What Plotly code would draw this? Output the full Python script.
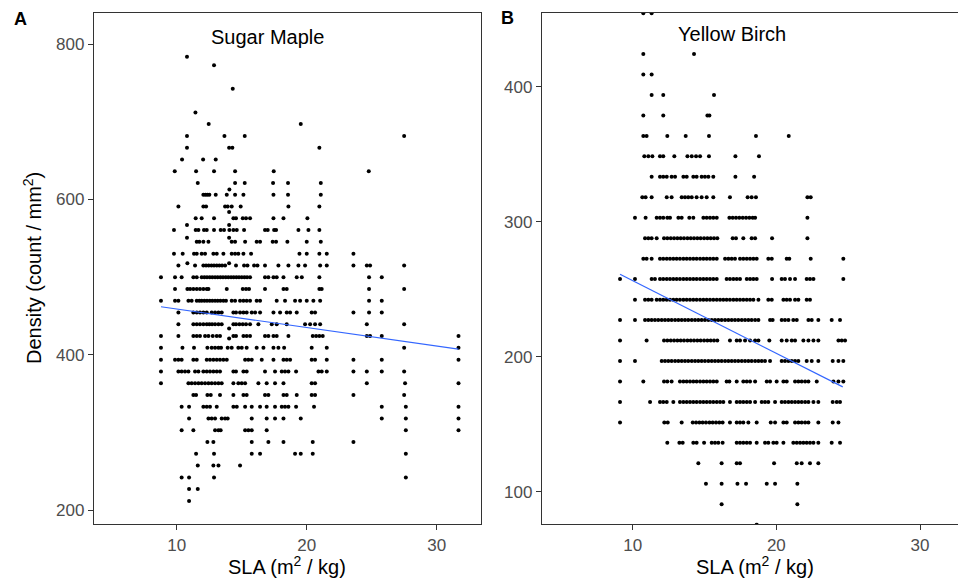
import plotly.graph_objects as go

# ---------------- Panel A: Sugar Maple ----------------
maple_density_levels = [783.7, 772.6, 742.4, 712.1, 697.0, 681.8, 666.7, 651.5, 636.4, 621.2, 613.0, 606.1,
                        590.9, 584.0, 575.8, 567.2, 560.6, 550.9, 545.5, 530.3, 518.0, 515.2, 500.0, 484.8,
                        469.7, 454.5, 439.4, 434.0, 424.2, 421.0, 409.1, 393.9, 378.8, 363.6, 348.5, 333.3,
                        318.2, 303.0, 287.9, 272.7, 257.6, 242.4, 227.3, 212.1]
maple_sla_by_level = [
    [10.79],
    [12.87],
    [14.31],
    [11.44],
    [12.46, 19.54],
    [10.79, 13.67, 15.23, 27.49],
    [10.79, 14.03, 14.28, 20.97],
    [10.41, 12.03, 13.00],
    [9.85, 11.49, 12.87, 14.49, 17.46, 24.77],
    [11.62, 14.49, 15.23, 17.41, 18.56, 21.08],
    [14.05],
    [12.05, 12.21, 12.36, 12.51, 13.00, 13.85, 14.49, 15.13, 17.44, 18.56, 21.08],
    [10.13, 12.05, 12.26, 13.72, 13.92, 14.23, 14.92, 18.59, 20.97],
    [14.03],
    [11.46, 11.92, 12.87, 14.36, 14.56, 15.08, 15.33, 15.64, 17.44, 18.21, 20.05],
    [10.79, 14.03],
    [9.79, 11.46, 11.67, 12.10, 12.31, 12.87, 13.38, 13.64, 14.05, 14.36, 14.62, 15.18, 16.79, 17.00,
     17.49, 17.64, 19.36, 20.13, 20.97],
    [10.79, 14.03],
    [11.54, 11.74, 12.05, 12.44, 14.23, 14.49, 15.26, 16.15, 16.41, 17.38, 17.64, 18.51, 20.00, 21.08],
    [9.79, 10.46, 11.33, 11.54, 11.92, 12.18, 12.82, 13.08, 13.59, 14.23, 14.49, 14.74, 15.13, 15.72,
     19.44, 20.00, 20.97, 21.54, 23.59],
    [10.82, 14.03],
    [10.13, 11.41, 12.05, 12.26, 12.46, 12.67, 12.87, 13.08, 13.28, 13.49, 13.72, 14.56, 15.18, 15.44,
     15.95, 16.21, 16.79, 17.82, 18.59, 19.36, 19.87, 21.03, 21.54, 23.59, 24.62, 24.87, 27.49],
    [8.79, 9.87, 10.38, 11.28, 11.54, 11.92, 12.13, 12.33, 12.54, 12.74, 12.95, 13.15, 13.36, 13.56,
     13.77, 13.97, 14.18, 14.38, 14.59, 14.79, 15.00, 15.21, 15.41, 15.64, 16.79, 17.05, 17.44, 17.69,
     18.21, 19.23, 19.62, 20.97, 24.79, 25.77],
    [9.87, 10.82, 11.03, 11.28, 11.54, 11.79, 12.05, 12.31, 12.44, 13.85, 15.08, 15.33, 15.56, 16.79,
     18.21, 18.46, 20.97, 21.15, 24.79, 27.49],
    [8.79, 9.87, 10.13, 10.90, 11.15, 11.54, 11.74, 11.92, 12.13, 12.33, 12.54, 12.74, 12.95, 13.15,
     13.36, 13.59, 13.79, 14.23, 14.49, 14.87, 15.13, 15.38, 15.64, 16.15, 16.41, 17.69, 18.33, 19.10,
     19.49, 20.00, 20.51, 21.03, 24.79, 25.77],
    [10.13, 11.28, 11.54, 11.79, 12.05, 12.31, 12.69, 12.95, 13.21, 13.46, 14.36, 14.56, 14.87, 15.13,
     15.38, 15.77, 16.03, 16.41, 17.44, 17.95, 18.46, 18.72, 19.23, 20.38, 20.64, 23.59, 24.79, 25.77],
    [10.13, 11.28, 11.54, 11.79, 12.05, 12.31, 12.51, 12.72, 12.95, 13.21, 13.46, 14.36, 14.56, 14.82,
     15.08, 15.33, 15.64, 16.28, 17.31, 17.69, 18.46, 19.87, 20.26, 20.64, 21.03, 24.62, 27.49],
    [14.03],
    [8.79, 10.13, 11.28, 11.54, 11.79, 12.18, 12.44, 12.77, 13.08, 13.33, 14.36, 14.56, 15.13, 15.38,
     15.64, 16.79, 17.05, 17.44, 17.69, 18.59, 20.46, 20.72, 20.97, 21.23, 24.62, 24.87, 25.77, 31.67],
    [14.03],
    [8.79, 10.44, 11.33, 12.36, 12.69, 12.95, 13.21, 13.41, 13.92, 14.23, 14.74, 15.00, 15.38, 16.15,
     16.67, 17.44, 17.82, 18.26, 20.38, 21.54, 27.49, 31.67],
    [8.79, 9.87, 10.13, 10.38, 11.28, 11.54, 12.31, 12.56, 12.82, 13.08, 13.33, 13.59, 13.85, 15.26,
     15.51, 15.77, 16.54, 17.44, 18.21, 18.46, 18.72, 20.38, 20.64, 21.54, 23.59, 25.77, 31.67],
    [8.79, 10.13, 10.38, 10.64, 10.90, 11.41, 11.67, 12.05, 12.31, 12.56, 12.82, 13.08, 13.33, 14.36,
     14.56, 15.13, 15.38, 16.79, 17.56, 18.08, 18.33, 18.59, 19.18, 20.90, 21.15, 21.54, 23.59, 24.62,
     25.77, 27.49],
    [8.79, 10.90, 11.15, 11.41, 11.67, 11.92, 12.18, 12.44, 12.69, 12.95, 13.21, 13.46, 14.36, 14.74,
     15.00, 15.26, 16.28, 16.92, 17.56, 18.21, 20.38, 20.64, 24.62, 27.56, 31.67],
    [11.28, 11.49, 12.36, 12.62, 13.33, 14.36, 15.13, 15.38, 16.79, 17.05, 18.21, 18.46, 19.23, 20.38,
     20.64, 23.59, 27.49],
    [10.38, 10.95, 12.05, 12.31, 12.56, 13.08, 14.36, 14.62, 15.26, 15.77, 16.41, 16.92, 17.56, 18.08,
     18.33, 18.59, 19.18, 20.56, 25.77, 27.62, 31.67],
    [10.95, 12.44, 12.69, 12.95, 13.46, 13.72, 13.92, 15.77, 16.92, 17.56, 18.21, 19.54, 25.77, 27.62, 31.67],
    [10.38, 11.28, 12.95, 13.21, 13.38, 15.26, 15.51, 15.77, 16.92, 27.62, 31.67],
    [12.36, 12.82, 15.77, 17.05, 18.21, 20.46, 23.59],
    [11.49, 12.87, 15.77, 16.41, 19.10, 19.54, 20.46, 27.62],
    [11.62, 12.82, 13.21, 14.87],
    [10.38, 10.95, 12.87, 27.62],
    [10.95, 11.62],
    [10.95],
]
maple_fit_sla = [8.79, 31.66]
maple_fit_density = [462.0, 407.4]

# ---------------- Panel B: Yellow Birch ----------------
birch_density_levels = [454.5, 424.2, 409.1, 393.9, 378.8, 363.6, 348.5, 333.3, 318.2, 303.0, 287.9,
                        272.7, 257.6, 242.4, 227.3, 212.1, 197.0, 181.8, 166.7, 151.5, 136.4, 121.2,
                        106.1, 90.9, 75.8]
birch_sla_by_level = [
    [10.74, 11.32],
    [10.74, 14.27],
    [10.74, 11.32],
    [11.32, 12.13, 15.66],
    [10.74, 12.13, 15.20, 15.34],
    [10.74, 10.97, 12.41, 13.69, 15.31, 18.58, 20.86],
    [10.81, 11.09, 11.37, 11.90, 12.13, 12.90, 13.81, 14.11, 14.41, 14.69, 15.31, 17.15, 18.79],
    [11.32, 11.90, 12.13, 12.37, 12.71, 12.95, 13.53, 13.76, 14.22, 14.45, 14.80, 15.03, 15.27, 15.61,
     17.15, 18.45],
    [10.67, 10.90, 11.32, 12.37, 12.71, 13.41, 13.64, 13.87, 14.11, 14.45, 14.80, 15.15, 15.61, 16.77,
     18.00, 18.28, 18.58, 22.16, 22.39],
    [10.16, 10.90, 11.67, 11.90, 12.13, 12.41, 12.60, 13.18, 13.41, 13.94, 14.22, 14.92, 15.15, 15.38,
     15.61, 15.85, 16.73, 16.96, 17.19, 17.42, 17.66, 17.89, 18.12, 18.35, 18.52, 22.16],
    [10.86, 11.09, 11.32, 11.67, 12.18, 12.41, 12.65, 12.88, 13.11, 13.34, 13.57, 13.81, 14.04, 14.27,
     14.50, 14.73, 14.97, 15.20, 15.43, 15.66, 15.89, 16.96, 17.19, 17.70, 18.28, 18.52, 19.70, 22.16],
    [10.74, 10.97, 11.32, 11.90, 12.13, 12.37, 12.60, 12.83, 13.06, 13.29, 13.53, 13.76, 13.99, 14.22,
     14.45, 14.69, 14.92, 15.15, 15.38, 15.61, 15.85, 16.43, 16.66, 16.89, 17.12, 17.47, 17.70, 17.94,
     18.17, 18.40, 18.63, 19.44, 19.68, 20.72, 20.90, 22.39, 24.66],
    [9.12, 10.16, 11.32, 11.55, 11.90, 12.13, 12.37, 12.60, 12.83, 13.06, 13.29, 13.53, 13.76, 13.99,
     14.22, 14.45, 14.69, 14.92, 15.15, 15.38, 15.61, 15.85, 16.54, 16.77, 17.01, 17.24, 17.47, 17.94,
     18.17, 18.40, 18.63, 19.70, 20.37, 20.60, 20.95, 21.30, 22.11, 22.34, 22.58, 24.66],
    [10.16, 10.86, 11.09, 11.32, 11.67, 11.90, 12.13, 12.37, 12.60, 12.83, 13.06, 13.29, 13.53, 13.76,
     13.99, 14.22, 14.45, 14.69, 14.92, 15.15, 15.38, 15.61, 15.85, 16.08, 16.31, 16.54, 16.77, 17.01,
     17.24, 17.47, 17.70, 17.94, 18.17, 18.40, 18.75, 19.44, 19.68, 20.49, 20.72, 20.95, 21.30, 21.53,
     22.11, 22.34],
    [9.12, 10.16, 10.86, 11.09, 11.32, 11.55, 11.78, 12.02, 12.25, 12.48, 12.71, 12.95, 13.18, 13.41,
     13.64, 13.87, 14.11, 14.34, 14.57, 14.80, 15.03, 15.27, 15.50, 15.73, 15.96, 16.19, 16.43, 16.66,
     16.89, 17.12, 17.35, 17.59, 17.82, 18.05, 18.28, 18.52, 18.75, 19.56, 19.74, 20.37, 20.60, 20.84,
     21.18, 21.42, 22.23, 22.46, 22.92, 23.85, 24.43],
    [9.12, 10.97, 12.18, 12.41, 12.65, 12.88, 13.11, 13.34, 13.57, 13.81, 14.04, 14.27, 14.50, 14.73,
     14.97, 15.20, 15.43, 15.66, 15.89, 16.77, 17.24, 17.47, 17.82, 18.17, 18.52, 18.75, 19.51, 20.37,
     20.72, 21.07, 21.30, 21.88, 22.23, 22.58, 22.92, 24.32, 24.55, 24.78],
    [9.12, 10.16, 12.02, 12.25, 12.48, 12.71, 12.95, 13.18, 13.41, 13.64, 13.87, 14.11, 14.34, 14.57,
     14.80, 15.03, 15.27, 15.50, 15.73, 15.96, 16.19, 16.43, 16.66, 16.89, 17.12, 17.35, 17.59, 17.82,
     18.05, 18.28, 18.52, 18.75, 18.98, 19.21, 19.56, 20.37, 20.60, 20.84, 21.07, 21.30, 21.53, 22.11,
     22.46, 22.92, 23.92, 24.32, 24.66],
    [9.12, 10.74, 12.18, 12.41, 12.71, 13.29, 13.53, 13.76, 13.99, 14.22, 14.45, 14.69, 14.92, 15.15,
     15.38, 15.61, 15.85, 16.54, 16.73, 17.24, 17.70, 17.94, 18.17, 18.52, 19.33, 19.56, 20.02, 20.49,
     20.72, 21.30, 21.53, 21.76, 22.00, 22.23, 22.81, 23.97, 24.32, 24.66],
    [9.12, 11.21, 11.90, 12.13, 12.37, 12.83, 13.29, 13.53, 13.76, 13.99, 14.22, 14.45, 14.69, 14.92,
     15.15, 15.38, 15.61, 15.85, 16.08, 16.31, 16.77, 17.24, 17.47, 17.70, 17.94, 18.17, 18.52, 18.98,
     19.21, 19.44, 19.91, 20.37, 20.60, 20.84, 21.07, 21.30, 21.53, 21.76, 22.00, 22.23, 22.58, 22.92,
     23.92, 24.20, 24.43],
    [9.12, 12.20, 12.44, 13.41, 14.18, 14.41, 14.64, 14.87, 15.10, 15.34, 15.57, 15.80, 16.03, 16.26,
     16.77, 17.24, 17.47, 17.70, 18.05, 18.63, 19.61, 19.91, 20.49, 20.72, 21.30, 21.53, 21.76, 22.00,
     22.23, 22.92, 23.92, 24.32],
    [12.41, 13.25, 13.48, 14.22, 14.45, 14.97, 15.50, 15.73, 15.96, 16.26, 17.24, 17.47, 17.70, 17.94,
     18.17, 18.63, 19.21, 19.44, 19.79, 20.02, 20.49, 21.18, 21.42, 21.65, 21.88, 22.11, 22.34, 22.58,
     22.92, 23.85, 24.43],
    [14.57, 16.19, 17.24, 17.47, 19.84, 21.42, 21.76, 22.34, 22.92],
    [15.10, 16.19, 17.29, 17.89, 19.33, 19.91, 21.46],
    [16.19, 21.46],
    [18.63],
]
birch_fit_sla = [9.12, 24.62]
birch_fit_density = [261.2, 177.8]

x_ticks = [10, 20, 30]
maple_y_ticks = [200, 400, 600, 800]
birch_y_ticks = [100, 200, 300, 400]


def flatten(levels, sla_rows):
    xs, ys = [], []
    for lvl, row in zip(levels, sla_rows):
        for v in row:
            xs.append(v)
            ys.append(lvl)
    return xs, ys


W, H = 958, 581
mx, my = flatten(maple_density_levels, maple_sla_by_level)
bx, by = flatten(birch_density_levels, birch_sla_by_level)

fig = go.Figure()
dot = dict(color="black", size=4)
fig.add_trace(go.Scatter(x=mx, y=my, mode="markers", marker=dot, xaxis="x", yaxis="y", showlegend=False))
fig.add_trace(go.Scatter(x=maple_fit_sla, y=maple_fit_density, mode="lines",
                         line=dict(color="#3366FF", width=1.2), xaxis="x", yaxis="y", showlegend=False))
fig.add_trace(go.Scatter(x=bx, y=by, mode="markers", marker=dot, xaxis="x2", yaxis="y2", showlegend=False))
fig.add_trace(go.Scatter(x=birch_fit_sla, y=birch_fit_density, mode="lines",
                         line=dict(color="#3366FF", width=1.2), xaxis="x2", yaxis="y2", showlegend=False))

FAM = "Liberation Sans, Arial, sans-serif"
tickfont = dict(family=FAM, size=17, color="#4d4d4d")
axcommon = dict(showgrid=False, zeroline=False, showline=True, linecolor="#333333", linewidth=1.3,
                ticks="outside", ticklen=5, tickwidth=1.2, tickcolor="#333333", tickfont=tickfont)

ytop = 1 - 13 / H
ybot = 1 - 524 / H
fig.update_layout(
    width=W, height=H, margin=dict(l=0, r=0, t=0, b=0),
    paper_bgcolor="white", plot_bgcolor="white",
    xaxis=dict(domain=[94 / W, 481 / W], range=[3.64, 33.4], tickvals=x_ticks, mirror=True,
               anchor="y", **axcommon),
    yaxis=dict(domain=[ybot, ytop], range=[182.4, 840.0], tickvals=maple_y_ticks, mirror=True,
               anchor="x", **axcommon),
    xaxis2=dict(domain=[542 / W, 1.0], range=[3.69, 32.64], tickvals=x_ticks, mirror=True,
                anchor="y2", **axcommon),
    yaxis2=dict(domain=[ybot, ytop], range=[76.3, 454.6], tickvals=birch_y_ticks, mirror=False,
                anchor="x2", **axcommon),
)

font_title = dict(family=FAM, size=20, color="black")
font_axis = dict(family=FAM, size=20, color="black")
font_tag = dict(family=FAM, size=18, color="black")


def ann(text, px, py, font, angle=0):
    fig.add_annotation(text=text, x=px / W, y=1 - py / H, xref="paper", yref="paper",
                       showarrow=False, xanchor="center", yanchor="middle", font=font, textangle=angle)


ann("<b>A</b>", 20, 19, font_tag)
ann("<b>B</b>", 507, 18, font_tag)
ann("Sugar Maple", 267, 37, font_title)
ann("Yellow Birch", 732, 34, font_title)
ann("SLA (m<sup>2</sup> / kg)", 287, 565, font_axis)
ann("SLA (m<sup>2</sup> / kg)", 755, 565, font_axis)
ann("Density (count / mm<sup>2</sup>)", 32, 268, font_axis, angle=-90)

fig.write_html("out.html")
